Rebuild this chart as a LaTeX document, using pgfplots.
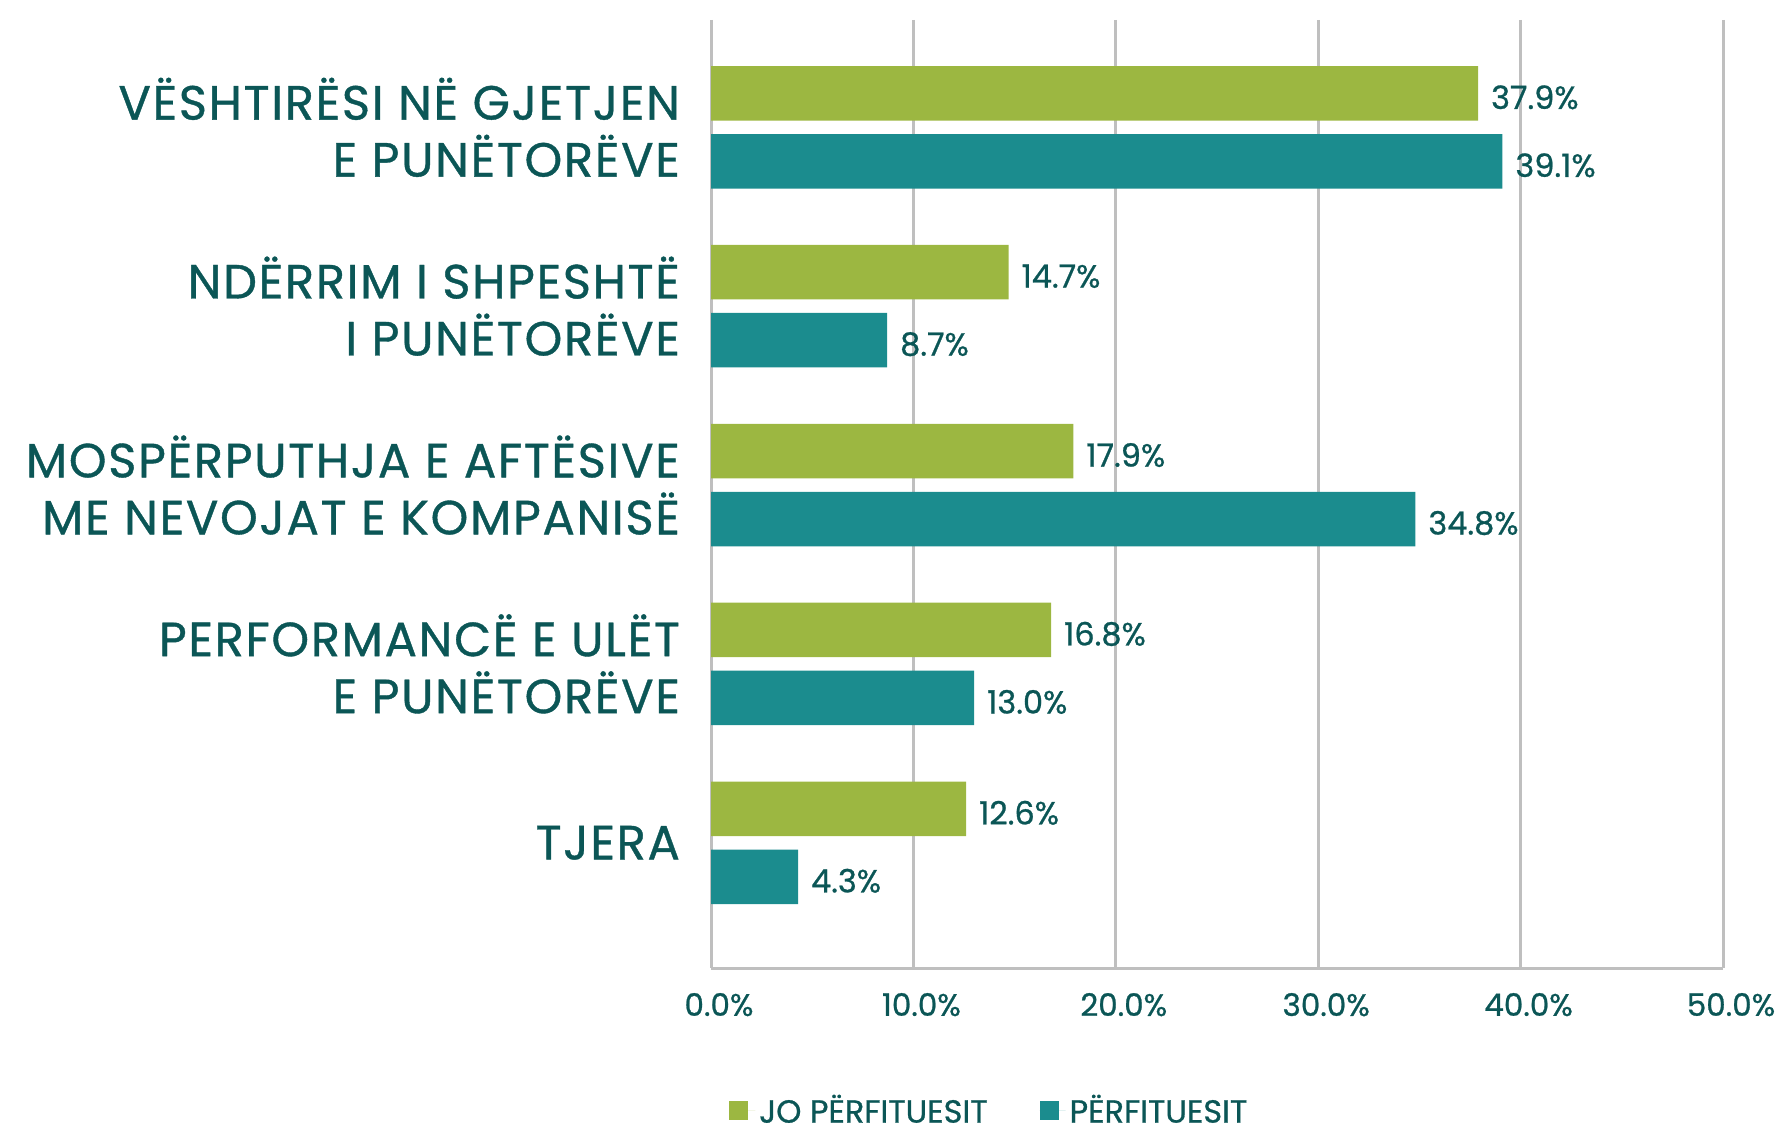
\documentclass[border=0pt]{standalone}
\usepackage{fontspec}
\setmainfont{Poppins}[FakeBold=0.8]
\usepackage{pgfplots}
\pgfplotsset{compat=1.18}
\definecolor{cgreen}{HTML}{9CB741}
\definecolor{cteal}{HTML}{1B8C8E}
\definecolor{ctext}{HTML}{0B5656}
\definecolor{cgrid}{HTML}{BFBFBF}
\begin{document}
\begin{tikzpicture}
\begin{axis}[
  at={(608.5pt,322.5pt)}, anchor=center,
  scale only axis, width=506pt, height=474pt,
  xbar,
  xmin=0, xmax=50, ymin=-0.6, ymax=4.7, y dir=reverse,
  xtick={0,10,20,30,40,50},
  xticklabels={0.0\%,10.0\%,20.0\%,30.0\%,40.0\%,50.0\%},
  ytick={0,1,2,3,4},
  yticklabels={{VËSHTIRËSI NË GJETJEN\\E PUNËTORËVE},{NDËRRIM I SHPESHTË\\I PUNËTORËVE},{MOSPËRPUTHJA E AFTËSIVE\\ME NEVOJAT E KOMPANISË},{PERFORMANCË E ULËT\\E PUNËTORËVE},{TJERA}},
  major tick length=0pt,
  xmajorgrids, grid style={cgrid, line width=1.5pt},
  axis x line*=bottom, axis y line*=left,
  x axis line style={cgrid, line width=1.5pt, -},
  y axis line style={draw=none},
  xticklabel style={font=\fontsize{15.5}{17}\selectfont, text=ctext, yshift=-9pt, xshift=4pt},
  yticklabel style={font=\fontsize{24}{28.5}\selectfont\addfontfeatures{LetterSpace=3.5}, text=ctext, align=right, xshift=-12pt},
  /pgf/number format/assume math mode=true,
  point meta=x,
  bar width=0.305,
  nodes near coords={\pgfmathprintnumber[fixed,fixed zerofill,precision=1]{\pgfplotspointmeta}\%},
  every node near coord/.append style={font=\fontsize{16}{18}\selectfont, text=ctext, anchor=west, xshift=3pt, yshift=-2pt},
  legend style={at={(0.276,-0.150)}, anchor=center, legend columns=2, draw=none, fill=none,
    inner sep=1pt, font=\fontsize{16}{18}\selectfont, text=ctext,
    /tikz/every even column/.append style={column sep=24pt}},
  legend image code/.code={\fill[#1] (0pt,-4.75pt) rectangle (9.5pt,4.75pt); \path (0pt,0pt) -- (13pt,0pt);},
]
\addplot[bar shift=-0.19, fill=cgreen, draw=none] coordinates {(37.9,0) (14.7,1) (17.9,2) (16.8,3) (12.6,4)};
\addlegendentry{JO PËRFITUESIT}
\addplot[bar shift=0.19, fill=cteal, draw=none] coordinates {(39.1,0) (8.7,1) (34.8,2) (13.0,3) (4.3,4)};
\addlegendentry{PËRFITUESIT}
\end{axis}
\pgfresetboundingbox
\path[use as bounding box] (0,0) rectangle (890.5pt,569.5pt);
\end{tikzpicture}
\end{document}
